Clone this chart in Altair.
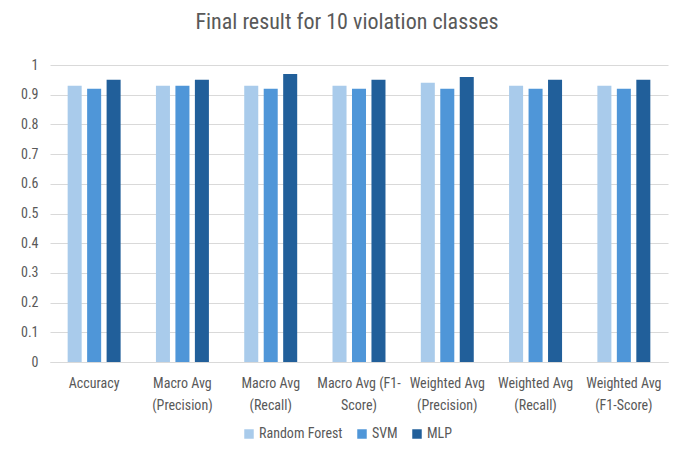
import altair as alt
import pandas as pd

categories = ["Accuracy", "Macro Avg (Precision)", "Macro Avg (Recall)", "Macro Avg (F1-Score)",
              "Weighted Avg (Precision)", "Weighted Avg (Recall)", "Weighted Avg (F1-Score)"]
label_lines = [["Accuracy"], ["Macro Avg", "(Precision)"], ["Macro Avg", "(Recall)"],
               ["Macro Avg (F1-", "Score)"], ["Weighted Avg", "(Precision)"],
               ["Weighted Avg", "(Recall)"], ["Weighted Avg", "(F1-Score)"]]
models = ["Random Forest", "SVM", "MLP"]
rf = [0.93, 0.93, 0.93, 0.93, 0.94, 0.93, 0.93]
svm = [0.92, 0.93, 0.92, 0.92, 0.92, 0.92, 0.92]
mlp = [0.95, 0.95, 0.97, 0.95, 0.96, 0.95, 0.95]
colors = ["#A9CBEB", "#4F96D8", "#215F9A"]

rows = []
for series, name in zip([rf, svm, mlp], models):
    for c, v in zip(categories, series):
        rows.append({"Metric": c, "Model": name, "Value": v})
df = pd.DataFrame(rows)

expr = "datum.label"
for c, lines in reversed(list(zip(categories, label_lines))):
    arr = "[" + ",".join("'" + l + "'" for l in lines) + "]"
    expr = f"datum.label == '{c}' ? {arr} : ({expr})"

FONT = "Liberation Sans Narrow, Roboto Condensed, Roboto, sans-serif"

chart = alt.Chart(df).mark_bar().encode(
    x=alt.X("Metric:N", sort=categories,
            scale=alt.Scale(paddingInner=0.4, paddingOuter=0.2),
            axis=alt.Axis(title=None, labelAngle=0, labelExpr=expr, ticks=False,
                          domainColor="#D9D9D9", labelColor="#595959", labelFontSize=14,
                          labelFont=FONT, labelPadding=14, labelLineHeight=22,
                          labelBaseline="top")),
    xOffset=alt.XOffset("Model:N", sort=models, scale=alt.Scale(paddingInner=0.28, paddingOuter=0)),
    y=alt.Y("Value:Q", scale=alt.Scale(domain=[0, 1]),
            axis=alt.Axis(title=None, values=[i / 10 for i in range(11)], labelExpr="datum.value == 0 ? '0' : datum.value == 1 ? '1' : format(datum.value, '.1f')",
                          domain=False, ticks=False, gridColor="#D9D9D9", gridWidth=1.2,
                          labelColor="#595959", labelFontSize=14, labelFont=FONT, labelPadding=12)),
    color=alt.Color("Model:N", sort=models, scale=alt.Scale(domain=models, range=colors),
                    legend=alt.Legend(title=None, orient="none", direction="horizontal",
                                      legendX=192, legendY=362, symbolType="square",
                                      symbolSize=90, symbolStrokeWidth=0, labelFontSize=14,
                                      labelColor="#595959", labelFont=FONT, columnPadding=12,
                                      labelOffset=3)),
).properties(
    width=618, height=297,
    title=alt.TitleParams("Final result for 10 violation classes", fontSize=22, font=FONT,
                          fontWeight="normal", color="#595959", anchor="middle", offset=24, dx=-12),
    autosize=alt.AutoSizeParams(type="none"),
    padding={"left": 42, "top": 57, "right": 2, "bottom": 83},
).configure_view(stroke=None)

chart.save("out.html", embed_options={"renderer": "svg", "actions": False})
